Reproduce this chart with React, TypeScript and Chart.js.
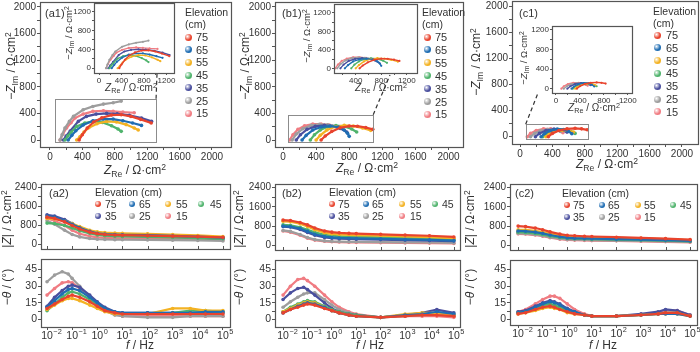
import React, { useEffect, useRef } from "react";
import { Chart, registerables } from "chart.js";

Chart.register(...registerables);

const FONT = '"Liberation Sans", Arial, Helvetica, sans-serif';
const TXT = "#333";
const AX = "#555";

// ---------- series meta ----------
const ELEV = ["75", "65", "55", "45", "35", "25", "15"];
const COLORS = ["#e8432d", "#1f6db3", "#f3b223", "#4fb36c", "#4a4f9e", "#9d9d9d", "#f07c82"];

// ---------- Nyquist data: [Z_Re, -Z_Im] per elevation (75,65,55,45,35,25,15) ----------
const A1_NYQ: number[][][] = [
  [[360, 0], [400, 80], [460, 180], [540, 270], [640, 335], [760, 375], [880, 380], [1000, 355], [1120, 310], [1250, 255]],
  [[225, 0], [270, 70], [320, 140], [410, 225], [530, 290], [660, 315], [780, 315], [900, 290], [1020, 255], [1130, 220]],
  [[330, 0], [370, 50], [420, 120], [480, 185], [580, 245], [700, 280], [820, 272], [940, 232], [1040, 180], [1090, 150]],
  [[185, 0], [220, 60], [260, 115], [330, 205], [430, 255], [530, 280], [650, 265], [760, 215], [840, 165], [880, 130]],
  [[165, 0], [200, 60], [250, 135], [350, 280], [450, 355], [570, 390], [700, 400], [830, 395], [980, 370], [1130, 330], [1255, 280]],
  [[125, 0], [150, 80], [185, 180], [240, 280], [290, 355], [410, 455], [530, 505], [660, 540], [780, 560], [880, 585]],
  [[125, 0], [160, 90], [205, 180], [260, 260], [310, 330], [410, 390], [530, 430], [660, 440], [780, 432], [900, 420], [1040, 410]],
];
const B1_NYQ: number[][][] = [
  [[460, 0], [510, 60], [590, 130], [690, 185], [800, 210], [900, 208], [1000, 188], [1085, 160]],
  [[230, 0], [280, 70], [360, 150], [460, 195], [570, 210], [670, 195], [740, 150], [780, 100], [800, 55]],
  [[400, 0], [450, 70], [530, 150], [630, 200], [740, 220], [850, 210], [960, 182], [1060, 145]],
  [[330, 0], [380, 80], [450, 150], [540, 198], [640, 218], [740, 205], [830, 165], [890, 120]],
  [[160, 0], [210, 80], [290, 160], [390, 205], [500, 220], [600, 208], [690, 175], [770, 120]],
  [[110, 0], [160, 90], [240, 170], [340, 220], [440, 235], [540, 228], [630, 205], [700, 175]],
  [[80, 0], [120, 80], [180, 160], [260, 212], [360, 240], [460, 240], [560, 225], [650, 200], [720, 175]],
];
const C1_NYQ: number[][][] = [
  [[350, 0], [400, 50], [480, 95], [580, 120], [680, 128], [760, 120], [830, 105]],
  [[260, 0], [300, 45], [370, 90], [460, 115], [540, 110], [600, 80], [640, 45]],
  [[320, 0], [360, 40], [430, 80], [520, 100], [600, 95], [660, 70]],
  [[280, 0], [330, 50], [400, 90], [480, 110], [560, 105], [630, 80], [680, 50]],
  [[190, 0], [240, 50], [320, 95], [420, 115], [510, 105], [580, 70]],
  [[130, 0], [180, 50], [250, 90], [340, 110], [430, 105], [500, 80]],
  [[90, 0], [130, 50], [200, 95], [290, 120], [380, 120], [460, 100], [530, 60]],
];

// ---------- Bode data ----------
const F_MOD = [0.01, 0.02, 0.05, 0.1, 0.2, 0.5, 1, 2, 5, 10, 100, 1000, 10000, 100000];
const F_PH_AB = [0.01, 0.02, 0.04, 0.07, 0.1, 0.2, 0.5, 1, 2, 5, 10, 100, 1000, 5000, 20000, 100000];
const F_PH_C = [0.01, 0.02, 0.05, 0.1, 0.2, 0.3, 0.5, 1, 2, 5, 10, 100, 1000, 5000, 10000, 30000, 100000];

const A2_MOD = [
  [1150, 1100, 950, 800, 650, 520, 450, 420, 400, 390, 370, 350, 330, 300],
  [1200, 1150, 1000, 850, 700, 550, 470, 440, 420, 410, 390, 360, 330, 290],
  [1100, 1080, 1000, 880, 750, 600, 530, 500, 480, 470, 450, 420, 380, 330],
  [900, 880, 800, 700, 580, 470, 400, 370, 350, 340, 320, 300, 270, 240],
  [1250, 1200, 1050, 880, 700, 520, 430, 390, 370, 360, 340, 320, 290, 250],
  [1000, 850, 600, 420, 320, 250, 220, 210, 200, 200, 190, 180, 170, 150],
  [1100, 1000, 800, 600, 450, 350, 300, 280, 270, 260, 250, 230, 210, 190],
];
const A2_PH = [
  [10, 14, 18, 21, 22, 20, 16, 12, 8, 6, 5, 5, 5, 5, 5, 5],
  [11, 17, 23, 27, 28, 26, 20, 15, 10, 7, 6, 6, 6, 6, 7, 7],
  [9, 13, 17, 19, 19, 17, 13, 10, 7, 5, 5, 5, 10, 10, 8, 8],
  [8, 14, 20, 24, 25, 23, 18, 13, 9, 6, 5, 5, 6, 8, 8, 7],
  [12, 20, 26, 30, 31, 29, 22, 16, 11, 7, 6, 6, 6, 6, 6, 6],
  [34, 40, 43, 41, 37, 30, 20, 13, 8, 4, 3, 2, 2, 3, 3, 3],
  [22, 28, 33, 34, 33, 28, 20, 14, 9, 5, 3, 3, 3, 3, 3, 3],
];
const B2_MOD = [
  [1050, 1030, 950, 850, 720, 600, 550, 520, 500, 490, 460, 430, 400, 350],
  [800, 780, 700, 580, 460, 370, 330, 310, 300, 290, 270, 250, 230, 200],
  [1000, 980, 900, 780, 650, 530, 480, 460, 440, 430, 400, 370, 340, 300],
  [850, 830, 750, 650, 540, 440, 400, 380, 360, 350, 330, 300, 280, 250],
  [780, 760, 660, 540, 420, 330, 300, 280, 270, 260, 240, 220, 200, 180],
  [620, 580, 450, 330, 240, 190, 170, 160, 150, 150, 140, 130, 120, 100],
  [600, 550, 420, 300, 220, 170, 150, 140, 130, 125, 115, 105, 95, 80],
];
const B2_PH = [
  [6, 9, 11, 13, 14, 13, 10, 8, 6, 4, 3, 2, 3, 4, 4, 3],
  [6, 9, 12, 14, 15, 14, 11, 8, 6, 4, 3, 2, 4, 5, 7, 5],
  [7, 10, 13, 15, 16, 15, 11, 8, 6, 4, 3, 2, 5, 6, 6, 4],
  [7, 11, 14, 16, 17, 16, 12, 9, 7, 5, 4, 2, 4, 5, 6, 4],
  [18, 24, 28, 29, 27, 22, 15, 10, 7, 5, 4, 2, 4, 6, 9, 6],
  [11, 16, 20, 23, 24, 24, 18, 13, 9, 6, 4, 2, 3, 4, 6, 4],
  [22, 30, 36, 37, 35, 30, 22, 16, 11, 7, 5, 2, 3, 3, 3, 2],
];
const C2_MOD = [
  [800, 780, 720, 650, 560, 470, 420, 400, 380, 370, 340, 310, 280, 240],
  [600, 590, 550, 500, 430, 360, 320, 300, 290, 280, 260, 240, 220, 190],
  [650, 640, 600, 550, 480, 410, 370, 350, 340, 330, 310, 290, 260, 220],
  [550, 540, 500, 450, 390, 330, 300, 280, 270, 260, 240, 220, 200, 170],
  [580, 570, 530, 480, 410, 340, 300, 290, 280, 270, 250, 230, 210, 180],
  [500, 490, 450, 400, 340, 280, 250, 240, 230, 220, 200, 190, 170, 150],
  [480, 470, 430, 380, 320, 260, 230, 220, 210, 200, 190, 170, 150, 130],
];
const C2_PH = [
  [5, 6, 9, 11, 12, 11, 9, 7, 5, 4, 3, 3, 4, 5, 6, 6, 3],
  [6, 7, 11, 14, 16, 15, 13, 9, 7, 4, 3, 3, 4, 5, 5, 5, 3],
  [5, 6, 8, 10, 11, 10, 9, 6, 5, 4, 3, 3, 4, 5, 5, 5, 3],
  [6, 7, 10, 13, 14, 13, 11, 8, 6, 4, 3, 3, 4, 5, 6, 6, 3],
  [7, 8, 12, 15, 17, 16, 14, 10, 7, 4, 3, 3, 5, 7, 9, 8, 4],
  [6, 7, 10, 12, 13, 12, 10, 8, 6, 4, 3, 3, 4, 5, 6, 6, 3],
  [7, 9, 14, 18, 21, 21, 19, 14, 9, 5, 3, 3, 4, 6, 8, 8, 4],
];

// ---------- tick lists ----------
const NYQ_TICKS = [0, 200, 400, 600, 800, 1000, 1200, 1400, 1600, 1800, 2000];
const NYQ_LABELS = [0, 400, 800, 1200, 1600, 2000];
const INSET_TICKS = [0, 200, 400, 600, 800, 1000, 1200];
const INSET_TICKS_B = [200, 400, 600, 800, 1000, 1200];
const INSET_LABELS = [0, 400, 800, 1200];
const MOD_TICKS = [0, 400, 800, 1200, 1600, 2000, 2400];
const MOD_LABELS = [0, 800, 1600, 2400];
const PH_TICKS = [0, 7.5, 15, 22.5, 30, 37.5, 45];
const PH_LABELS = [0, 15, 30, 45];
const F_TICKS = [0.01, 0.1, 1, 10, 100, 1000, 10000, 100000];
const F_EXP = ["-2", "-1", "0", "1", "2", "3", "4", "5"];

type Rect = { l: number; t: number; r: number; b: number };
type Ax = { log?: boolean; min: number; max: number; ticks: number[]; labels?: number[]; fmt?: (v: number) => string; show?: boolean; custom?: boolean };
type Pad = { L: number; R: number; T: number; B: number };

interface PlotProps {
  rect: Rect;
  x: Ax;
  y: Ax;
  series: { data: { x: number; y: number }[]; color: string }[];
  pad: Pad;
  font: number;
  lw?: number;
  pr?: number;
  tickLen?: number;
  zoomRect?: [number, number, number, number];
  connector?: { from: [number, number]; to: [number, number] };
  innerBottomTicks?: number[];
}

function Plot(p: PlotProps) {
  const ref = useRef<HTMLCanvasElement>(null);
  const { rect, pad } = p;
  const left = rect.l - pad.L;
  const top = rect.t - pad.T;
  const w = rect.r - rect.l + pad.L + pad.R;
  const h = rect.b - rect.t + pad.T + pad.B;
  const tl = p.tickLen ?? 3;
  useEffect(() => {
    const c = ref.current!;
    const xShow = p.x.show !== false;
    const yShow = p.y.show !== false;
    const mk = (a: Ax, axis: "x" | "y") => ({
      type: a.log ? "logarithmic" : "linear",
      min: a.min,
      max: a.max,
      display: a.show !== false,
      afterBuildTicks: (s: any) => {
        s.ticks = a.ticks.map((v) => ({ value: v }));
      },
      afterFit: (s: any) => {
        if (axis === "x") s.height = pad.B;
        else s.width = pad.L;
      },
      ticks: {
        autoSkip: false,
        maxRotation: 0,
        minRotation: 0,
        padding: 1,
        color: TXT,
        font: { family: FONT, size: p.font },
        callback: (_v: any, i: number) => {
          if (a.custom) return "";
          const t = a.ticks[i];
          const labs = a.labels ?? a.ticks;
          return labs.includes(t) ? (a.fmt ? a.fmt(t) : String(t)) : "";
        },
      },
      grid: { display: true, drawOnChartArea: false, drawTicks: true, tickLength: tl, color: AX, lineWidth: 1 },
      border: { display: false },
    });
    const deco = {
      id: "deco",
      afterDraw(chart: any) {
        const ctx = chart.ctx;
        const ca = chart.chartArea;
        const sx = chart.scales.x;
        const sy = chart.scales.y;
        ctx.save();
        ctx.strokeStyle = AX;
        ctx.lineWidth = 1.2;
        ctx.strokeRect(Math.round(ca.left) + 0.5, Math.round(ca.top) + 0.5, Math.round(ca.right - ca.left), Math.round(ca.bottom - ca.top));
        if (p.innerBottomTicks) {
          ctx.lineWidth = 1;
          p.innerBottomTicks.forEach((v) => {
            const px = Math.round(sx.getPixelForValue(v)) + 0.5;
            ctx.beginPath();
            ctx.moveTo(px, ca.bottom);
            ctx.lineTo(px, ca.bottom - 3);
            ctx.stroke();
          });
        }
        if (p.x.custom && xShow) {
          // decade labels 10^n with a raised exponent
          ctx.fillStyle = TXT;
          ctx.textBaseline = "middle";
          const yb = ca.bottom + tl + 6;
          p.x.ticks.forEach((v, i) => {
            const px = sx.getPixelForValue(v);
            ctx.font = `${p.font}px ${FONT}`;
            ctx.textAlign = "center";
            ctx.fillText("10", px, yb);
            const bw = ctx.measureText("10").width;
            ctx.font = `${p.font * 0.7}px ${FONT}`;
            ctx.textAlign = "left";
            ctx.fillText(F_EXP[i].replace("-", "−"), px + bw / 2 + 0.5, yb - 4);
          });
        }
        if (p.zoomRect) {
          const [x0, x1, y0, y1] = p.zoomRect;
          const a = sx.getPixelForValue(x0), b = sx.getPixelForValue(x1);
          const cc = sy.getPixelForValue(y1), d = sy.getPixelForValue(y0);
          ctx.strokeStyle = "#8c8c8c";
          ctx.lineWidth = 1;
          ctx.strokeRect(Math.round(a) + 0.5, Math.round(cc) + 0.5, Math.round(b - a), Math.round(d - cc));
        }
        if (p.connector) {
          const fx = sx.getPixelForValue(p.connector.from[0]);
          const fy = sy.getPixelForValue(p.connector.from[1]);
          ctx.strokeStyle = "#333";
          ctx.lineWidth = 1.2;
          ctx.setLineDash([4, 3]);
          ctx.beginPath();
          ctx.moveTo(fx, fy);
          ctx.lineTo(p.connector.to[0] - left, p.connector.to[1] - top);
          ctx.stroke();
        }
        ctx.restore();
      },
    };
    const chart = new Chart(c, {
      type: "scatter",
      data: {
        datasets: p.series.map((s) => ({
          data: s.data,
          showLine: true,
          borderColor: s.color,
          backgroundColor: s.color,
          pointBackgroundColor: s.color,
          pointBorderWidth: 0,
          pointRadius: p.pr ?? 1.8,
          borderWidth: p.lw ?? 2.2,
          tension: 0,
        })),
      },
      options: {
        animation: false,
        responsive: false,
        events: [],
        layout: { padding: { left: yShow ? 0 : pad.L, right: pad.R, top: pad.T, bottom: xShow ? 0 : pad.B } },
        plugins: { legend: { display: false }, tooltip: { enabled: false } },
        scales: { x: mk(p.x, "x") as any, y: mk(p.y, "y") as any },
      },
      plugins: [deco],
    });
    return () => chart.destroy();
  }, []);
  return <canvas ref={ref} width={w} height={h} style={{ position: "absolute", left, top, width: w, height: h }} />;
}

// ---------- text helpers ----------
const Sub = ({ children }: any) => <span style={{ fontSize: "0.72em", position: "relative", top: "0.32em" }}>{children}</span>;
const Sup = ({ children }: any) => <span style={{ fontSize: "0.72em", position: "relative", top: "-0.45em" }}>{children}</span>;

function Txt({ x, y, size, rot, left, children }: any) {
  const tr = (left ? "translate(0,-50%)" : "translate(-50%,-50%)") + (rot ? " rotate(-90deg)" : "");
  return (
    <div style={{ position: "absolute", left: x, top: y, transform: tr, fontSize: size, fontFamily: FONT, color: TXT, whiteSpace: "nowrap", lineHeight: 1 }}>
      {children}
    </div>
  );
}

const NyqY = () => (<>−<i>Z</i><Sub>Im</Sub> / Ω·cm<Sup>2</Sup></>);
const NyqX = () => (<><i>Z</i><Sub>Re</Sub> / Ω·cm<Sup>2</Sup></>);
const ModY = () => (<>|<i>Z</i>| / Ω·cm<Sup>2</Sup></>);
const PhY = () => (<>−<i>θ</i> / (°)</>);
const FX = () => (<><i>f</i> / Hz</>);

function Ball({ x, y, c, s = 7 }: any) {
  return (
    <div style={{ position: "absolute", left: x - s / 2, top: y - s / 2, width: s, height: s, borderRadius: "50%", background: `radial-gradient(circle at 35% 35%, #ffffff 0%, ${c} 55%, ${c} 100%)` }} />
  );
}

function NyqLegend({ tx, ty, mx, nx, y0, step }: any) {
  return (
    <>
      <Txt x={tx} y={ty} size={10.5} left>Elevation</Txt>
      <Txt x={tx} y={ty + 12} size={10.5} left>(cm)</Txt>
      {ELEV.map((e, i) => (
        <React.Fragment key={e}>
          <Ball x={mx} y={y0 + i * step} c={COLORS[i]} />
          <Txt x={nx} y={y0 + i * step} size={11} left>{e}</Txt>
        </React.Fragment>
      ))}
    </>
  );
}

function BodeLegend({ tx, ty, mxs, nxs, rows }: any) {
  return (
    <>
      <Txt x={tx} y={ty} size={10.5} left>Elevation (cm)</Txt>
      {ELEV.map((e, i) => {
        const r = i < 4 ? 0 : 1;
        const col = i % 4;
        return (
          <React.Fragment key={e}>
            <Ball x={mxs[col]} y={rows[r]} c={COLORS[i]} s={6} />
            <Txt x={nxs[col]} y={rows[r]} size={10.5} left>{e}</Txt>
          </React.Fragment>
        );
      })}
    </>
  );
}

const nyqSeries = (arr: number[][][]) => arr.map((s, i) => ({ color: COLORS[i], data: s.map(([x, y]) => ({ x, y })) }));
const bodeSeries = (f: number[], arr: number[][]) => arr.map((s, i) => ({ color: COLORS[i], data: s.map((y, j) => ({ x: f[j], y })) }));

const MAIN_PAD: Pad = { L: 40, R: 16, T: 8, B: 20 };
const INSET_PAD: Pad = { L: 22, R: 12, T: 6, B: 12 };
const BTOP_PAD: Pad = { L: 40, R: 16, T: 6, B: 2 };
const BBOT_PAD: Pad = { L: 40, R: 16, T: 2, B: 20 };

const nyqAx = (min: number, max: number): Ax => ({ min, max, ticks: NYQ_TICKS, labels: NYQ_LABELS });
const insAx = (min: number, max: number, ticks = INSET_TICKS): Ax => ({ min, max, ticks, labels: INSET_LABELS });
const fAx = (lo: number, hi: number, show = true): Ax => ({ log: true, min: Math.pow(10, lo), max: Math.pow(10, hi), ticks: F_TICKS, custom: true, show });
const modAx: Ax = { min: -190, max: 2545, ticks: MOD_TICKS, labels: MOD_LABELS };

function BodePair({ l, r, top, mid, bot, lo, hi, mod, ph, fph, phMin, phMax }: any) {
  return (
    <>
      <Plot rect={{ l, t: top, r, b: mid }} pad={BTOP_PAD} font={10} x={fAx(lo, hi, false)} y={modAx} series={bodeSeries(F_MOD, mod)} innerBottomTicks={F_TICKS} />
      <Plot rect={{ l, t: mid, r, b: bot }} pad={BBOT_PAD} font={10.5} x={fAx(lo, hi)} y={{ min: phMin, max: phMax, ticks: PH_TICKS, labels: PH_LABELS }} series={bodeSeries(fph, ph)} />
    </>
  );
}

export default function App() {
  return (
    <div style={{ position: "absolute", left: 0, top: 0, width: 700, height: 352, background: "#fff", overflow: "hidden", fontFamily: FONT }}>
      {/* ---- Nyquist main plots ---- */}
      <Plot rect={{ l: 40, t: 2, r: 231, b: 147 }} pad={MAIN_PAD} font={10} x={nyqAx(-123, 2235)} y={nyqAx(-105, 2075)} series={nyqSeries(A1_NYQ)} zoomRect={[60, 1310, -20, 620]} connector={{ from: [1310, 620], to: [157, 74] }} />
      <Plot rect={{ l: 275, t: 2, r: 463, b: 147 }} pad={MAIN_PAD} font={10} x={nyqAx(-97, 2175)} y={nyqAx(-105, 2075)} series={nyqSeries(B1_NYQ)} zoomRect={[60, 1090, -20, 380]} connector={{ from: [1090, 380], to: [390, 75] }} />
      <Plot rect={{ l: 512, t: 1, r: 698, b: 144 }} pad={MAIN_PAD} font={10} x={nyqAx(-99, 2198)} y={nyqAx(-112, 2077)} series={nyqSeries(C1_NYQ)} zoomRect={[70, 840, -40, 190]} connector={{ from: [70, 190], to: [538, 93] }} />

      {/* ---- insets ---- */}
      <Plot rect={{ l: 94, t: 3, r: 174, b: 73 }} pad={INSET_PAD} font={8} tickLen={2} x={insAx(-89, 1333)} y={insAx(-100, 1380)} series={nyqSeries(A1_NYQ)} lw={1.4} pr={1.1} />
      <Plot rect={{ l: 334, t: 4, r: 417, b: 73 }} pad={INSET_PAD} font={8} tickLen={2} x={insAx(60, 1360, INSET_TICKS_B)} y={insAx(-100, 1390)} series={nyqSeries(B1_NYQ)} lw={1.4} pr={1.1} />
      <Plot rect={{ l: 552, t: 26, r: 632, b: 93 }} pad={INSET_PAD} font={8} tickLen={2} x={insAx(-66, 1270)} y={insAx(-87, 1273)} series={nyqSeries(C1_NYQ)} lw={1.4} pr={1.1} />

      {/* ---- Bode plots ---- */}
      <BodePair l={41} r={230} top={183} mid={254} bot={327} lo={-2.24} hi={5.28} mod={A2_MOD} ph={A2_PH} fph={F_PH_AB} phMin={-6.7} phMax={54.2} />
      <BodePair l={275} r={460} top={183} mid={255} bot={327} lo={-2.33} hi={5.25} mod={B2_MOD} ph={B2_PH} fph={F_PH_AB} phMin={-6.7} phMax={53.3} />
      <BodePair l={510} r={697} top={183} mid={255} bot={325} lo={-2.33} hi={5.28} mod={C2_MOD} ph={C2_PH} fph={F_PH_C} phMin={-5} phMax={53.3} />

      {/* ---- axis titles ---- */}
      <Txt x={11} y={66} size={12} rot><NyqY /></Txt>
      <Txt x={245} y={66} size={12} rot><NyqY /></Txt>
      <Txt x={476} y={62} size={12} rot><NyqY /></Txt>
      <Txt x={135} y={170} size={12}><NyqX /></Txt>
      <Txt x={367} y={168} size={12}><NyqX /></Txt>
      <Txt x={607} y={164} size={12}><NyqX /></Txt>

      <Txt x={69} y={33} size={9.5} rot><NyqY /></Txt>
      <Txt x={307} y={36} size={9.5} rot><NyqY /></Txt>
      <Txt x={524} y={58} size={9.5} rot><NyqY /></Txt>
      <Txt x={131} y={88} size={10}><NyqX /></Txt>
      <Txt x={381} y={88} size={10}><NyqX /></Txt>
      <Txt x={594} y={108} size={10}><NyqX /></Txt>

      <Txt x={7} y={219} size={12} rot><ModY /></Txt>
      <Txt x={7} y={287} size={12} rot><PhY /></Txt>
      <Txt x={239} y={219} size={12} rot><ModY /></Txt>
      <Txt x={239} y={287} size={12} rot><PhY /></Txt>
      <Txt x={470} y={219} size={12} rot><ModY /></Txt>
      <Txt x={470} y={287} size={12} rot><PhY /></Txt>
      <Txt x={140} y={345} size={12}><FX /></Txt>
      <Txt x={370} y={345} size={12}><FX /></Txt>
      <Txt x={603} y={345} size={12}><FX /></Txt>

      {/* ---- panel labels ---- */}
      <Txt x={45} y={13} size={11} left>(a1)</Txt>
      <Txt x={282} y={13} size={11} left>(b1)</Txt>
      <Txt x={519} y={13} size={11} left>(c1)</Txt>
      <Txt x={49} y={193} size={11} left>(a2)</Txt>
      <Txt x={282} y={193} size={11} left>(b2)</Txt>
      <Txt x={515} y={193} size={11} left>(c2)</Txt>

      {/* ---- legends ---- */}
      <NyqLegend tx={185} ty={12} mx={188} nx={196} y0={37} step={12.7} />
      <NyqLegend tx={422} ty={12} mx={427} nx={435} y0={37} step={12.9} />
      <NyqLegend tx={653} ty={11} mx={657} nx={666} y0={35} step={12.8} />
      <BodeLegend tx={95} ty={192} mxs={[98, 132, 168, 201]} nxs={[105, 139, 176, 210]} rows={[204, 216]} />
      <BodeLegend tx={329} ty={192} mxs={[332, 366, 402, 435]} nxs={[338, 372, 410, 442]} rows={[204, 216]} />
      <BodeLegend tx={562} ty={193} mxs={[567, 602, 638, 673]} nxs={[573, 608, 644, 680]} rows={[205, 217]} />
    </div>
  );
}
